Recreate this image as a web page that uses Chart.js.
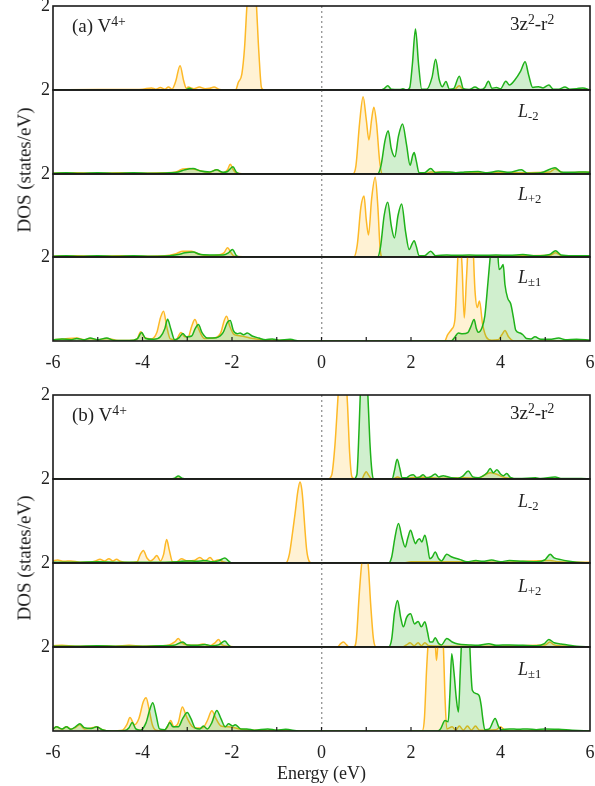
<!DOCTYPE html>
<html><head><meta charset="utf-8">
<script src="https://cdn.jsdelivr.net/npm/chart.js@4.4.1/dist/chart.umd.min.js"></script>
<style>
body{margin:0;width:595px;height:786px;background:#fff;position:relative;overflow:hidden;font-family:"Liberation Serif","Times New Roman",serif;color:#222;}
canvas{position:absolute;left:0;}
.lbl{position:absolute;font-size:18px;line-height:18px;white-space:nowrap;color:#222;}
.big{font-size:19px;line-height:19px;}
.orb{font-size:19px;line-height:19px;}
.sup{font-size:0.72em;vertical-align:baseline;position:relative;top:-0.42em;}
.sub{font-size:0.7em;vertical-align:baseline;position:relative;top:0.25em;}
.ytitle{position:absolute;width:220px;text-align:center;font-size:19px;line-height:19px;transform:translate(-50%,-50%) rotate(-90deg);white-space:nowrap;}
</style></head><body>
<script>
// ---------- DATA (energy eV, DOS states/eV) ----------
const xTickVals = [-6,-4,-2,0,2,4,6];
const xMinorVals = [-5,-4,-3,-2,-1,0,1,2,3,4,5];
const yTickVals = [2];
const xTitle = 'Energy (eV)';
const yTitle = 'DOS (states/eV)';
const panelTags = ['(a) V', '(b) V'];
const orbitalLabels = ['3z<span class="sup">2</span>-r<span class="sup">2</span>', '<i>L</i><span class="sub">-2</span>', '<i>L</i><span class="sub">+2</span>', '<i>L</i><span class="sub">\u00b11</span>'];

// panel (a)
const a_z_yel = [[-6,0],[-5,0.01],[-4.4,0.01],[-4.0,0.02],[-3.8,0.05],[-3.7,0.02],[-3.6,0.06],[-3.5,0.02],[-3.42,0.07],[-3.34,0.02],[-3.26,0.2],[-3.16,0.58],[-3.08,0.22],[-3.02,0.04],[-2.98,0.07],[-2.85,0.03],[-2.73,0.07],[-2.6,0.03],[-2.5,0.04],[-2.4,0.07],[-2.3,0.02],[-2.2,0],[-1.92,0],[-1.86,0.18],[-1.78,0.38],[-1.72,1.0],[-1.66,2.1],[-1.56,3.0],[-1.47,2.3],[-1.4,0.9],[-1.34,0.05],[-1.28,0],[2.95,0],[3.08,0.1],[3.18,0],[6,0]];
const a_z_grn = [[-6,0],[-3.05,0],[-2.95,0.04],[-2.85,0],[1.3,0],[1.4,0.03],[1.48,0.1],[1.56,0.02],[1.75,0.01],[1.82,0.03],[1.9,0],[1.97,0.05],[2.03,0.6],[2.1,1.45],[2.17,0.6],[2.24,0.02],[2.35,0.02],[2.47,0.3],[2.55,0.73],[2.63,0.25],[2.7,0.08],[2.78,0.2],[2.86,0.02],[2.95,0.03],[3.08,0.33],[3.17,0.03],[3.3,0.01],[3.43,0.07],[3.55,0.01],[3.65,0.06],[3.73,0.21],[3.81,0.04],[3.91,0.06],[4.0,0.03],[4.12,0.21],[4.2,0.12],[4.32,0.24],[4.45,0.45],[4.55,0.67],[4.63,0.35],[4.72,0.06],[4.85,0.08],[4.95,0.05],[5.08,0.12],[5.18,0.02],[5.3,0.02],[5.44,0.07],[5.55,0.02],[5.7,0.03],[5.84,0.05],[6,0]];

const a_m2_yel = [[-6,0.02],[-5.5,0.03],[-5,0.02],[-4.5,0.03],[-4,0.02],[-3.5,0.03],[-3.25,0.05],[-3.1,0.12],[-2.95,0.13],[-2.8,0.1],[-2.65,0.06],[-2.5,0.04],[-2.35,0.1],[-2.2,0.03],[-2.1,0.1],[-2.04,0.23],[-1.97,0.1],[-1.9,0.02],[-1.5,0],[0.7,0],[0.77,0.2],[0.85,1.2],[0.93,1.84],[1.0,1.3],[1.06,0.81],[1.12,1.3],[1.17,1.59],[1.23,1.2],[1.3,0.3],[1.36,0],[2.3,0],[2.45,0.05],[3,0.03],[4,0.03],[5.1,0.05],[5.22,0.12],[5.4,0.03],[6,0.05]];
const a_m2_grn = [[-6,0.02],[-5.7,0.03],[-5.4,0.02],[-5,0.03],[-4.6,0.02],[-4.2,0.03],[-3.8,0.02],[-3.4,0.03],[-3.2,0.05],[-3.05,0.1],[-2.87,0.13],[-2.7,0.07],[-2.5,0.05],[-2.34,0.1],[-2.2,0.04],[-2.1,0.06],[-1.98,0.17],[-1.9,0.04],[-1.8,0],[1.25,0],[1.33,0.2],[1.42,0.8],[1.49,1.03],[1.56,0.6],[1.64,0.41],[1.72,0.9],[1.81,1.19],[1.9,0.7],[1.98,0.21],[2.04,0.45],[2.07,0.51],[2.12,0.3],[2.18,0.03],[2.3,0.03],[2.44,0.13],[2.55,0.03],[2.7,0.05],[2.85,0.05],[3.0,0.03],[3.2,0.05],[3.5,0.06],[3.7,0.03],[3.95,0.07],[4.2,0.04],[4.47,0.1],[4.6,0.02],[4.9,0.03],[5.22,0.15],[5.35,0.05],[5.6,0.04],[5.9,0.05],[6,0.04]];

const a_p2_yel = [[-6,0.02],[-5.5,0.03],[-5,0.02],[-4.5,0.03],[-4,0.02],[-3.5,0.03],[-3.25,0.08],[-3.1,0.14],[-2.9,0.14],[-2.75,0.07],[-2.5,0.03],[-2.3,0.05],[-2.18,0.1],[-2.1,0.22],[-2.02,0.1],[-1.95,0.02],[-1.5,0],[0.72,0],[0.8,0.3],[0.88,1.2],[0.95,1.47],[1.0,0.9],[1.05,0.53],[1.12,1.4],[1.2,1.92],[1.26,1.2],[1.31,0.2],[1.36,0],[2.3,0],[3,0.02],[5.1,0.04],[5.23,0.1],[5.4,0.02],[6,0.03]];
const a_p2_grn = [[-6,0.02],[-5.7,0.03],[-5.4,0.02],[-5,0.03],[-4.6,0.02],[-4.2,0.03],[-3.8,0.02],[-3.4,0.03],[-3.2,0.06],[-3.05,0.1],[-2.87,0.12],[-2.7,0.06],[-2.4,0.05],[-2.2,0.05],[-2.08,0.1],[-1.99,0.18],[-1.9,0.03],[-1.8,0],[1.25,0],[1.32,0.25],[1.4,1.0],[1.48,1.32],[1.56,0.75],[1.63,0.46],[1.71,1.0],[1.79,1.28],[1.88,0.6],[1.96,0.18],[2.03,0.33],[2.07,0.39],[2.12,0.25],[2.18,0.03],[2.3,0.03],[2.44,0.14],[2.55,0.03],[2.8,0.05],[3.0,0.04],[3.3,0.05],[3.6,0.04],[3.9,0.05],[4.2,0.04],[4.5,0.06],[4.8,0.03],[5.1,0.06],[5.23,0.15],[5.35,0.05],[5.6,0.03],[6,0.03]];

const a_pm1_yel = [[-6,0.03],[-5.75,0.05],[-5.47,0.07],[-5.3,0.03],[-5.17,0.06],[-5,0.03],[-4.8,0.06],[-4.6,0.02],[-4.3,0.01],[-4.12,0.05],[-4.04,0.22],[-3.95,0.08],[-3.8,0.05],[-3.68,0.2],[-3.6,0.55],[-3.53,0.71],[-3.46,0.35],[-3.38,0.05],[-3.25,0.03],[-3.14,0.2],[-3.06,0.1],[-2.98,0.1],[-2.9,0.35],[-2.83,0.51],[-2.75,0.3],[-2.62,0.06],[-2.4,0.07],[-2.25,0.2],[-2.17,0.5],[-2.12,0.59],[-2.05,0.35],[-1.95,0.15],[-1.8,0.12],[-1.6,0.07],[-1.3,0.03],[-1.0,0.02],[-0.5,0],[2.75,0],[2.82,0.15],[2.91,0.28],[2.98,0.5],[3.03,1.6],[3.08,2.6],[3.14,1.8],[3.19,0.55],[3.24,1.5],[3.3,2.6],[3.36,2.7],[3.43,1.2],[3.48,0.8],[3.53,0.95],[3.6,0.4],[3.68,0.1],[3.8,0.02],[3.95,0.03],[4.03,0.15],[4.1,0.25],[4.18,0.1],[4.3,0],[6,0]];
const a_pm1_grn = [[-6,0.03],[-5.8,0.05],[-5.6,0.03],[-5.47,0.06],[-5.3,0.03],[-5.17,0.07],[-5.0,0.03],[-4.8,0.07],[-4.65,0.02],[-4.3,0.01],[-4.12,0.05],[-4.02,0.2],[-3.93,0.06],[-3.75,0.04],[-3.6,0.1],[-3.5,0.3],[-3.44,0.52],[-3.37,0.3],[-3.28,0.03],[-3.18,0.08],[-3.1,0.18],[-3.02,0.1],[-2.9,0.12],[-2.82,0.3],[-2.75,0.39],[-2.67,0.2],[-2.55,0.07],[-2.35,0.08],[-2.2,0.2],[-2.1,0.45],[-2.04,0.49],[-1.97,0.25],[-1.88,0.17],[-1.82,0.19],[-1.74,0.15],[-1.66,0.19],[-1.55,0.12],[-1.4,0.07],[-1.25,0.03],[-1.1,0.05],[-0.95,0.02],[-0.7,0.04],[-0.5,0],[2.9,0],[2.97,0.08],[3.06,0.19],[3.15,0.17],[3.27,0.2],[3.34,0.35],[3.41,0.51],[3.46,0.3],[3.5,0.21],[3.59,0.33],[3.65,0.6],[3.72,1.4],[3.77,2.0],[3.85,2.8],[3.92,2.4],[3.97,1.7],[4.02,1.75],[4.06,1.82],[4.1,1.34],[4.16,1.02],[4.23,0.88],[4.29,0.55],[4.34,0.26],[4.44,0.19],[4.5,0.15],[4.58,0.06],[4.68,0.05],[4.77,0.1],[4.9,0.04],[5.1,0.04],[5.3,0.07],[5.45,0.03],[5.7,0.04],[6,0.02]];

// panel (b)
const b_z_yel = [[-6,0],[-3.3,0],[-3.2,0.02],[-3.1,0],[0.15,0],[0.23,0.1],[0.3,0.8],[0.36,1.8],[0.42,2.8],[0.47,3.2],[0.52,2.8],[0.58,1.8],[0.63,0.6],[0.68,0.05],[0.75,0],[0.9,0],[0.95,0.1],[1.0,0.17],[1.06,0.08],[1.12,0],[1.6,0],[1.7,0.05],[1.8,0],[2.0,0.03],[2.3,0.04],[2.6,0.02],[3.2,0.03],[3.5,0.02],[3.77,0.15],[3.9,0.12],[4.05,0.05],[4.2,0.02],[4.5,0],[6,0]];
const b_z_grn = [[-6,0],[-3.4,0],[-3.28,0.02],[-3.2,0.07],[-3.12,0.02],[-3.0,0],[0.72,0],[0.79,0.1],[0.84,1.2],[0.88,2.4],[0.95,3.5],[1.02,2.4],[1.08,0.9],[1.13,0.15],[1.17,0],[1.58,0],[1.63,0.2],[1.69,0.47],[1.75,0.25],[1.8,0.03],[1.9,0.03],[1.97,0.08],[2.05,0.1],[2.13,0.03],[2.2,0.05],[2.27,0.1],[2.35,0.03],[2.45,0.06],[2.54,0.12],[2.62,0.05],[2.72,0.08],[2.8,0.06],[2.9,0.03],[3.05,0.02],[3.15,0.06],[3.28,0.19],[3.38,0.05],[3.5,0.03],[3.6,0.07],[3.7,0.15],[3.77,0.25],[3.84,0.15],[3.92,0.22],[4.0,0.12],[4.07,0.08],[4.14,0.13],[4.22,0.04],[4.4,0.01],[4.78,0.03],[4.9,0.01],[5.22,0.05],[5.35,0.01],[5.8,0.01],[6,0]];

const b_m2_yel = [[-6,0.05],[-5.9,0.07],[-5.75,0.04],[-5.6,0.05],[-5.4,0.02],[-5.2,0.02],[-5.05,0.05],[-4.95,0.09],[-4.85,0.05],[-4.75,0.1],[-4.66,0.05],[-4.58,0.09],[-4.5,0.04],[-4.3,0.01],[-4.12,0.03],[-4.05,0.2],[-3.98,0.3],[-3.9,0.12],[-3.82,0.05],[-3.75,0.1],[-3.68,0.18],[-3.6,0.05],[-3.53,0.2],[-3.46,0.56],[-3.4,0.3],[-3.33,0.03],[-3.25,0.02],[-3.13,0.1],[-3.0,0.05],[-2.85,0.06],[-2.72,0.13],[-2.6,0.05],[-2.49,0.13],[-2.4,0.04],[-2.3,0.08],[-2.2,0.03],[-2.0,0],[-0.8,0],[-0.72,0.2],[-0.65,0.7],[-0.59,1.18],[-0.53,1.7],[-0.48,1.93],[-0.44,1.75],[-0.41,1.41],[-0.37,0.8],[-0.33,0.3],[-0.28,0.05],[-0.22,0],[1.8,0],[2.0,0.03],[3.0,0.03],[4.0,0.02],[5.1,0.06],[5.3,0.03],[6,0.02]];
const b_m2_grn = [[-6,0.02],[-5.5,0.02],[-5,0.03],[-4.5,0.02],[-4,0.02],[-3.5,0.02],[-3.2,0.03],[-3.0,0.05],[-2.8,0.04],[-2.6,0.06],[-2.45,0.03],[-2.3,0.05],[-2.16,0.12],[-2.08,0.05],[-2.0,0],[1.5,0],[1.57,0.15],[1.64,0.6],[1.72,0.94],[1.8,0.6],[1.87,0.38],[1.93,0.6],[1.99,0.78],[2.05,0.6],[2.1,0.46],[2.15,0.55],[2.19,0.58],[2.24,0.5],[2.31,0.66],[2.37,0.4],[2.42,0.1],[2.48,0.15],[2.54,0.26],[2.62,0.1],[2.68,0.05],[2.8,0.21],[2.9,0.15],[3.1,0.08],[3.25,0.03],[3.45,0.06],[3.6,0.04],[3.8,0.07],[4.0,0.03],[4.2,0.06],[4.5,0.04],[4.8,0.03],[5.0,0.08],[5.11,0.21],[5.2,0.12],[5.35,0.08],[5.5,0.05],[5.7,0.02],[6,0]];

const b_p2_yel = [[-6,0.03],[-5.8,0.04],[-5.5,0.02],[-5.2,0.02],[-4.9,0.03],[-4.6,0.02],[-4.3,0.04],[-4.0,0.02],[-3.6,0.03],[-3.4,0.05],[-3.28,0.12],[-3.2,0.2],[-3.12,0.1],[-3.0,0.05],[-2.8,0.04],[-2.65,0.07],[-2.5,0.03],[-2.38,0.1],[-2.3,0.18],[-2.22,0.05],[-2.1,0.02],[-1.9,0],[0.35,0],[0.43,0.08],[0.49,0.12],[0.56,0.05],[0.62,0],[0.72,0],[0.78,0.2],[0.84,1.2],[0.9,2.0],[0.97,2.3],[1.04,2.0],[1.1,1.0],[1.16,0.2],[1.22,0],[1.8,0],[1.9,0.05],[1.98,0.1],[2.07,0.03],[2.16,0.1],[2.23,0.03],[2.31,0.1],[2.4,0.03],[3,0.02],[5.0,0.05],[5.1,0.12],[5.2,0.05],[5.5,0.02],[6,0]];
const b_p2_grn = [[-6,0.02],[-5.5,0.02],[-5,0.03],[-4.5,0.02],[-4,0.02],[-3.6,0.03],[-3.3,0.04],[-3.1,0.12],[-3.0,0.05],[-2.8,0.04],[-2.6,0.06],[-2.45,0.03],[-2.3,0.05],[-2.16,0.14],[-2.08,0.05],[-2.0,0],[1.5,0],[1.57,0.2],[1.63,0.8],[1.7,1.11],[1.77,0.7],[1.83,0.48],[1.9,0.7],[1.99,0.79],[2.08,0.55],[2.16,0.61],[2.23,0.48],[2.31,0.6],[2.37,0.35],[2.42,0.12],[2.48,0.12],[2.54,0.22],[2.62,0.08],[2.68,0.05],[2.8,0.2],[2.92,0.12],[3.05,0.07],[3.3,0.05],[3.5,0.04],[3.74,0.08],[3.9,0.04],[4.2,0.05],[4.5,0.04],[4.8,0.03],[4.98,0.08],[5.08,0.18],[5.2,0.1],[5.35,0.07],[5.5,0.05],[5.7,0.02],[6,0]];

const b_pm1_yel = [[-6,0.05],[-5.92,0.1],[-5.8,0.04],[-5.7,0.1],[-5.6,0.05],[-5.5,0.08],[-5.4,0.15],[-5.3,0.05],[-5.15,0.07],[-5.02,0.1],[-4.9,0.03],[-4.7,0],[-4.45,0.02],[-4.35,0.15],[-4.28,0.32],[-4.18,0.15],[-4.08,0.3],[-3.98,0.7],[-3.92,0.79],[-3.85,0.5],[-3.78,0.15],[-3.7,0.02],[-3.55,0],[-3.45,0.08],[-3.37,0.25],[-3.3,0.1],[-3.2,0.2],[-3.11,0.57],[-3.02,0.35],[-2.9,0.12],[-2.8,0.07],[-2.65,0.08],[-2.55,0.25],[-2.45,0.48],[-2.36,0.3],[-2.25,0.12],[-2.1,0.1],[-1.95,0.08],[-1.8,0.04],[-1.5,0.02],[-1.0,0.01],[-0.5,0],[2.25,0],[2.3,0.3],[2.35,1.5],[2.4,2.3],[2.47,2.5],[2.54,2.1],[2.57,1.68],[2.61,2.2],[2.66,2.5],[2.72,2.1],[2.76,0.8],[2.8,0.05],[2.92,0.1],[3.0,0.02],[3.08,0.12],[3.17,0.02],[3.26,0.12],[3.35,0.02],[3.44,0.12],[3.53,0.02],[3.68,0.02],[3.9,0.03],[4.0,0.1],[4.08,0.03],[4.2,0],[6,0]];
const b_pm1_grn = [[-6,0.05],[-5.92,0.1],[-5.8,0.05],[-5.7,0.1],[-5.6,0.04],[-5.5,0.1],[-5.4,0.17],[-5.3,0.08],[-5.15,0.06],[-5.02,0.1],[-4.9,0.03],[-4.7,0],[-4.4,0.01],[-4.3,0.08],[-4.23,0.2],[-4.15,0.05],[-4.05,0.02],[-3.92,0.2],[-3.84,0.5],[-3.77,0.67],[-3.7,0.4],[-3.62,0.05],[-3.5,0.03],[-3.45,0.1],[-3.39,0.2],[-3.32,0.1],[-3.2,0.1],[-3.1,0.3],[-3.0,0.44],[-2.92,0.3],[-2.82,0.07],[-2.72,0.05],[-2.64,0.12],[-2.55,0.05],[-2.45,0.2],[-2.34,0.49],[-2.25,0.3],[-2.15,0.1],[-2.08,0.17],[-1.98,0.12],[-1.93,0.15],[-1.8,0.05],[-1.67,0.05],[-1.5,0.02],[-1.2,0.05],[-1.0,0.02],[-0.8,0.04],[-0.5,0],[2.6,0],[2.66,0.05],[2.76,0.25],[2.83,0.22],[2.87,0.9],[2.91,1.84],[2.96,1.4],[3.01,0.8],[3.06,0.45],[3.1,1.4],[3.14,2.3],[3.22,2.6],[3.3,2.3],[3.34,1.4],[3.37,0.97],[3.46,0.89],[3.52,0.85],[3.57,0.6],[3.6,0.33],[3.65,0.03],[3.75,0.05],[3.88,0.3],[3.96,0.1],[4.02,0.03],[4.2,0.05],[4.4,0.04],[4.6,0.05],[4.8,0.03],[5.0,0.05],[5.3,0.04],[5.6,0.02],[6,0]];

// ---------- LAYOUT / STYLE ----------
const YEL = '#FDB927', YEL_FILL = 'rgba(255,190,40,0.20)';
const GRN = '#1FB21A', GRN_FILL = 'rgba(40,180,30,0.22)';
const FONT = 'Liberation Serif';
const panels = [
  {series:[[a_z_grn,a_z_yel],[a_m2_grn,a_m2_yel],[a_p2_grn,a_p2_yel],[a_pm1_grn,a_pm1_yel]],
   tops:[6,90,174,257], bots:[90,174,257,341], tagTop:16, lblTops:[14,102,185,268], titleY:170},
  {series:[[b_z_grn,b_z_yel],[b_m2_grn,b_m2_yel],[b_p2_grn,b_p2_yel],[b_pm1_grn,b_pm1_yel]],
   tops:[395,479,563,647], bots:[479,563,647,731], tagTop:405, lblTops:[403,492,577,660], titleY:558}
];
const PAD = 14;

const framePlugin = {
  id: 'frame',
  afterDraw(chart, args, opts) {
    const {ctx, chartArea: a} = chart;
    ctx.save();
    ctx.strokeStyle = '#1a1a1a';
    ctx.lineWidth = 1.6;
    ctx.strokeRect(a.left, a.top, a.right - a.left, a.bottom - a.top);
    if (opts.minor) {
      const xs = chart.scales.x;
      ctx.lineWidth = 1.2;
      xMinorVals.forEach(v => {
        const px = xs.getPixelForValue(v);
        ctx.beginPath(); ctx.moveTo(px, a.bottom); ctx.lineTo(px, a.bottom - 4); ctx.stroke();
      });
    }
    ctx.restore();
  }
};

function toPts(arr) { return arr.map(p => ({x: p[0], y: p[1]})); }

panels.forEach((P, pi) => {
  P.series.forEach((pair, si) => {
    const isBottom = si === 3;
    const withTitle = isBottom && pi === 1;
    const t = P.tops[si], b = P.bots[si];
    const xh = isBottom ? (withTitle ? 55 : 40) : 0;
    const padBottom = isBottom ? 0 : PAD;
    const h = PAD + (b - t) + xh + padBottom;
    const cv = document.createElement('canvas');
    cv.width = 595; cv.height = h;
    cv.style.top = (t - PAD) + 'px';
    cv.style.width = '595px'; cv.style.height = h + 'px';
    document.body.appendChild(cv);
    new Chart(cv, {
      type: 'line',
      data: {
        datasets: [
          {data: toPts(pair[0]), borderColor: GRN, backgroundColor: GRN_FILL, fill: 'origin', borderWidth: 1.5, pointRadius: 0, cubicInterpolationMode: 'monotone'},
          {data: toPts(pair[1]), borderColor: YEL, backgroundColor: YEL_FILL, fill: 'origin', borderWidth: 1.5, pointRadius: 0, cubicInterpolationMode: 'monotone'}
        ]
      },
      options: {
        responsive: false, animation: false, devicePixelRatio: 1,
        layout: {padding: {top: PAD, bottom: padBottom, left: 0, right: 5}},
        plugins: {legend: {display: false}, tooltip: {enabled: false}, frame: {minor: isBottom}},
        scales: {
          x: {
            type: 'linear', min: -6, max: 6,
            afterBuildTicks: s => { s.ticks = xTickVals.map(v => ({value: v})); },
            afterFit: s => { s.height = xh; s.paddingLeft = 0; s.paddingRight = 0; },
            grid: {drawTicks: false, lineWidth: 1.4,
                   color: c => (c.tick && c.tick.value === 0) ? '#9a9a9a' : 'rgba(0,0,0,0)'},
            border: {display: false, dash: [2, 3]},
            ticks: {display: isBottom, font: {family: FONT, size: 18}, color: '#222', padding: 11, maxRotation: 0, autoSkip: false},
            title: {display: withTitle, text: xTitle, font: {family: FONT, size: 18}, color: '#222', padding: {top: 0, bottom: 1}}
          },
          y: {
            min: 0, max: 2,
            afterBuildTicks: s => { s.ticks = yTickVals.map(v => ({value: v})); },
            afterFit: s => { s.width = 53; s.paddingTop = 0; s.paddingBottom = 0; },
            grid: {display: false, drawTicks: false},
            border: {display: false},
            ticks: {font: {family: FONT, size: 18}, color: '#222', padding: 3}
          }
        }
      },
      plugins: [framePlugin]
    });
    const lb = document.createElement('div');
    lb.className = 'lbl' + (si === 0 ? ' orb' : '');
    lb.innerHTML = orbitalLabels[si];
    lb.style.left = (si === 0 ? 510 : 518) + 'px';
    lb.style.top = P.lblTops[si] + 'px';
    document.body.appendChild(lb);
  });
  const tag = document.createElement('div');
  tag.className = 'lbl big';
  tag.innerHTML = panelTags[pi] + '<span class="sup">4+</span>';
  tag.style.left = '72px'; tag.style.top = P.tagTop + 'px';
  document.body.appendChild(tag);
  const yt = document.createElement('div');
  yt.className = 'ytitle';
  yt.textContent = yTitle;
  yt.style.left = '24px'; yt.style.top = P.titleY + 'px';
  document.body.appendChild(yt);
});
</script>
</body></html>
